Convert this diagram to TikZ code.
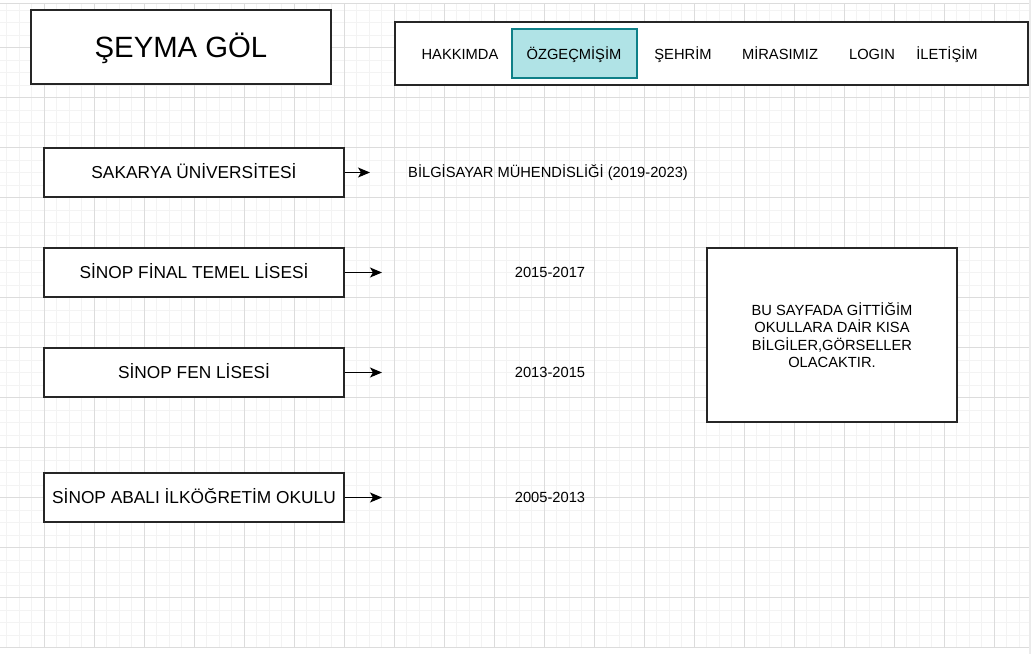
\documentclass[tikz,border=0pt]{standalone}
\usepackage{fontspec}
\setmainfont{Liberation Sans}
\usetikzlibrary{arrows.meta}
\definecolor{tealfill}{HTML}{B0E3E6}
\definecolor{tealline}{HTML}{0E8088}
\definecolor{gridmajor}{HTML}{DCDCDC}
\definecolor{gridminor}{HTML}{F3F3F3}
\begin{document}
\begin{tikzpicture}[x=1pt, y=-1pt, node distance=100pt,
  box node/.style={draw=black!85, line width=1.2pt, fill=white, minimum width=300pt, minimum height=49pt, inner sep=0pt},
  school font/.style={font=\fontsize{17.3}{20}\selectfont, text height=12.4pt, text depth=0pt},
  small font/.style={font=\fontsize{14.7}{17.6}\selectfont, text height=10.5pt, text depth=0pt},
  nav item/.style={small font, inner sep=0pt}]
  \useasboundingbox (0,0) rectangle (1034,654);
  \fill[white] (0,0) rectangle (1034,654);

  % grid
  \foreach \k in {0,...,81} \draw[gridminor, line width=0.8pt] ({6.5+12.5*\k},3) -- ({6.5+12.5*\k},648);
  \foreach \k in {0,...,51} \draw[gridminor, line width=0.8pt] (0,{10+12.5*\k}) -- (1029,{10+12.5*\k});
  \foreach \k in {0,...,19} \draw[gridmajor, line width=0.8pt] ({44+50*\k},3) -- ({44+50*\k},648);
  \foreach \k in {0,...,12} \draw[gridmajor, line width=0.8pt] (0,{47.5+50*\k}) -- (1029,{47.5+50*\k});
  \draw[gridmajor, line width=0.8pt] (0,3) -- (1029,3);
  \fill[black!8] (1029,0) rectangle (1031,654);

  % header
  \node[box node, minimum width=300pt, minimum height=74pt, font=\fontsize{29.3}{34}\selectfont, text height=21pt, text depth=0pt] (title) at (181,47) {ŞEYMA GÖL};
  \node[box node, minimum width=633pt, minimum height=63pt] (nav) at (711.5,53.5) {};
  \node[draw=tealline, fill=tealfill, line width=1.2pt, minimum width=125pt, minimum height=49pt] (ozgecmis) at (574.5,53.5) {};
  \node[nav item] (hakkimda) at (460,54.5) {HAKKIMDA};
  \node[nav item] (ozgecmistext) at (574,54.5) {ÖZGEÇMİŞİM};
  \node[nav item] (sehrim) at (683,54.5) {ŞEHRİM};
  \node[nav item] (mirasimiz) at (780,54.5) {MİRASIMIZ};
  \node[nav item] (login) at (872,54.5) {LOGIN};
  \node[nav item] (iletisim) at (947,54.5) {İLETİŞİM};

  % schools
  \node[box node, school font] (sakarya) at (194,172.5) {SAKARYA ÜNİVERSİTESİ};
  \node[box node, school font] (final) [below of=sakarya] {SİNOP FİNAL TEMEL LİSESİ};
  \node[box node, school font] (fen) [below of=final] {SİNOP FEN LİSESİ};
  \node[box node, school font] (abali) [below of=fen, node distance=125pt] {SİNOP ABALI İLKÖĞRETİM OKULU};

  \node[small font, inner sep=0pt, anchor=west] (ysakarya) at (408,172.5) {BİLGİSAYAR MÜHENDİSLİĞİ (2019-2023)};
  \node[small font, inner sep=0pt] (yfinal) [right of=final, node distance=356pt] {2015-2017};
  \node[small font, inner sep=0pt] (yfen) [right of=fen, node distance=356pt] {2013-2015};
  \node[small font, inner sep=0pt] (yabali) [right of=abali, node distance=356pt] {2005-2013};

  \coordinate (asakarya) at (370,172.5);
  \coordinate (afinal) at (382,272.5);
  \coordinate (afen) at (382,372.5);
  \coordinate (aabali) at (382,497.5);

  \path[-{Stealth[length=12pt, width=10pt, inset=3pt]}, line width=1.2pt, draw=black]
    (sakarya) edge (asakarya)
    (final) edge (afinal)
    (fen) edge (afen)
    (abali) edge (aabali);

  % info
  \node[box node, minimum width=250pt, minimum height=174pt, font=\fontsize{14.7}{17.4}\selectfont, align=center] (info) at (832,335)
    {BU SAYFADA GİTTİĞİM\\OKULLARA DAİR KISA\\BİLGİLER,GÖRSELLER\\OLACAKTIR.};
\end{tikzpicture}
\end{document}
